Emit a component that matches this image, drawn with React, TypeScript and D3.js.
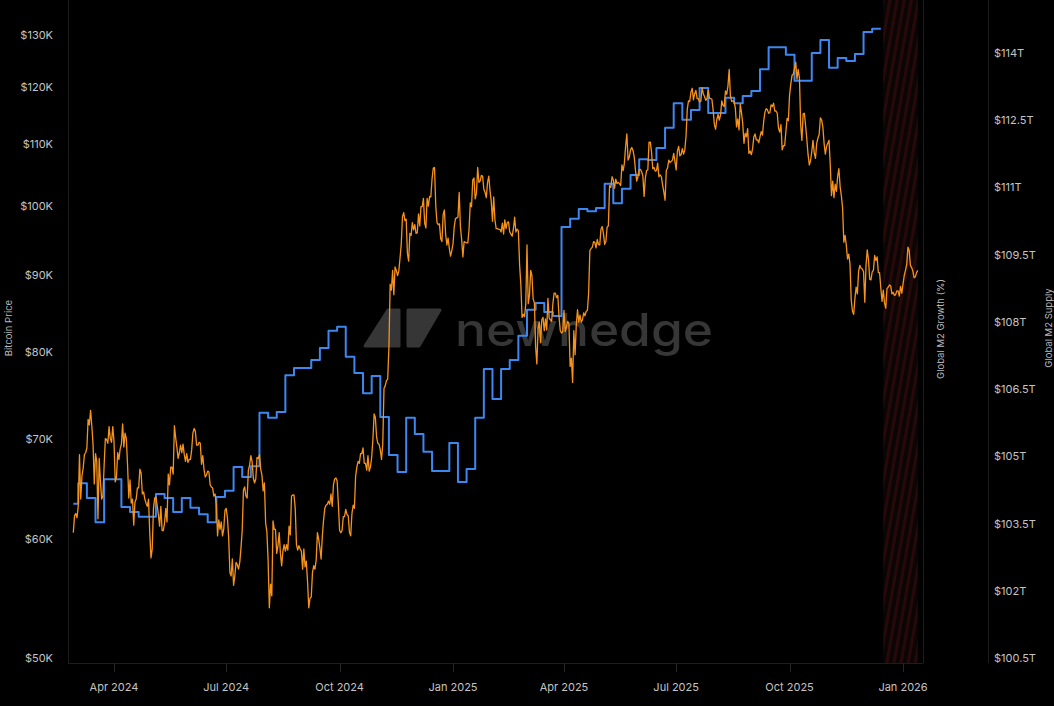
import { useEffect, useRef } from 'react';
import * as d3 from 'd3';

const W = 1054;
const H = 706;

// Bitcoin daily close ($K). Each row starts at the matching date in btcMonthStarts.
const btcMonthStarts = [
    '2024-02-28', '2024-03-01', '2024-04-01', '2024-05-01', '2024-06-01', '2024-07-01',
    '2024-08-01', '2024-09-01', '2024-10-01', '2024-11-01', '2024-12-01', '2025-01-01',
    '2025-02-01', '2025-03-01', '2025-04-01', '2025-05-01', '2025-06-01', '2025-07-01',
    '2025-08-01', '2025-09-01', '2025-10-01', '2025-11-01', '2025-12-01', '2026-01-01',
];
const btcDailyK: number[][] = [
    [60.6, 62.2],
    [62.4, 62.0, 63.1, 68.3, 63.8, 66.1, 66.9, 68.3, 68.5, 69.0, 72.1, 71.5, 73.1, 71.4, 69.4, 65.3, 68.4, 67.6, 61.9, 67.9, 65.5, 63.8, 64.1, 67.2, 70.0, 69.9, 69.5, 71.3, 70.0, 69.6, 71.3],
    [69.7, 65.5, 66.0, 68.5, 67.8, 68.9, 69.4, 71.6, 69.1, 70.6, 70.0, 67.2, 63.9, 65.7, 63.4, 63.8, 61.3, 63.5, 63.8, 64.9, 64.9, 66.8, 66.4, 64.3, 64.5, 63.8, 63.4, 63.1, 63.8, 60.6],
    [58.3, 59.1, 62.9, 63.9, 64.0, 63.2, 62.3, 61.2, 63.1, 60.8, 60.8, 61.5, 62.9, 61.6, 66.3, 65.2, 67.0, 67.0, 66.3, 71.4, 70.1, 69.1, 67.9, 68.5, 69.3, 68.5, 69.4, 68.3, 67.6, 68.4, 67.5],
    [67.8, 67.8, 68.8, 70.6, 71.1, 70.8, 69.3, 69.3, 69.6, 69.5, 67.3, 68.2, 66.8, 66.0, 66.2, 66.6, 66.5, 65.2, 65.0, 64.9, 64.1, 64.3, 63.2, 60.3, 61.8, 60.9, 61.6, 60.3, 60.9, 62.7],
    [62.9, 62.0, 60.2, 57.0, 56.7, 58.2, 55.9, 56.7, 57.9, 57.7, 57.3, 57.9, 59.2, 60.8, 64.7, 65.0, 64.1, 63.9, 66.7, 67.2, 68.2, 67.6, 65.9, 65.4, 65.8, 68.0, 67.9, 68.3, 66.8, 66.2, 64.6],
    [65.4, 61.5, 60.7, 58.1, 54.0, 56.0, 55.0, 61.7, 60.9, 60.9, 58.7, 59.4, 60.6, 58.7, 57.6, 58.9, 59.5, 58.9, 59.5, 59.0, 61.2, 60.4, 64.1, 64.2, 64.2, 62.9, 59.5, 59.0, 59.4, 59.1, 58.9],
    [57.3, 59.1, 57.5, 58.0, 56.2, 54.0, 54.8, 54.9, 57.0, 57.6, 57.3, 58.1, 60.6, 60.0, 59.2, 58.2, 60.3, 61.8, 62.9, 63.2, 63.3, 63.6, 63.3, 64.3, 63.1, 65.2, 65.8, 65.9, 65.6, 63.3],
    [60.8, 60.6, 60.8, 62.1, 62.1, 62.8, 62.3, 62.2, 60.6, 60.3, 62.4, 63.2, 62.9, 66.1, 67.0, 67.6, 67.4, 68.4, 68.4, 69.0, 67.4, 67.4, 66.7, 68.2, 66.6, 67.0, 68.0, 69.9, 72.7, 72.3, 70.2],
    [69.5, 69.4, 68.8, 67.8, 69.4, 75.6, 75.9, 76.5, 76.7, 80.5, 88.7, 87.9, 90.6, 87.3, 91.1, 90.6, 89.9, 90.5, 92.3, 94.3, 98.4, 99.0, 97.8, 98.0, 93.0, 91.9, 95.9, 95.6, 97.5, 96.4],
    [97.2, 95.9, 96.0, 98.8, 97.0, 99.9, 99.9, 101.2, 97.4, 96.7, 101.2, 100.0, 101.5, 101.4, 104.3, 106.0, 106.1, 100.0, 97.5, 97.2, 97.3, 95.1, 94.7, 98.7, 99.4, 95.8, 94.2, 95.2, 93.7, 92.6, 93.4],
    [94.4, 96.9, 98.1, 98.2, 98.3, 102.1, 96.9, 95.0, 92.5, 94.7, 94.6, 94.5, 94.5, 96.5, 100.5, 99.9, 104.1, 104.4, 101.1, 102.0, 106.1, 103.7, 103.9, 104.8, 104.7, 102.6, 102.1, 101.3, 103.7, 104.7, 102.4],
    [100.7, 97.7, 101.4, 97.9, 96.6, 96.6, 96.5, 96.5, 96.1, 97.4, 95.8, 97.9, 96.6, 97.5, 97.6, 96.1, 95.8, 95.5, 96.6, 98.3, 96.1, 96.5, 96.3, 91.4, 88.7, 84.3, 84.7, 84.4],
    [86.0, 94.2, 86.1, 87.2, 90.6, 89.9, 86.7, 86.2, 80.6, 78.5, 82.9, 83.7, 81.1, 84.0, 84.3, 82.6, 84.1, 82.7, 86.8, 84.2, 84.0, 83.8, 86.1, 87.5, 87.5, 86.9, 87.2, 84.4, 82.6, 82.3, 82.5],
    [85.2, 82.5, 83.1, 83.8, 83.5, 78.2, 79.2, 76.3, 82.6, 79.6, 83.4, 85.3, 83.7, 84.6, 83.7, 84.0, 84.9, 84.5, 85.1, 85.2, 87.5, 93.4, 93.7, 93.9, 94.7, 94.6, 93.8, 95.0, 94.3, 94.2],
    [96.5, 96.9, 95.9, 94.3, 94.7, 96.8, 97.0, 103.2, 102.9, 104.6, 104.1, 102.8, 104.2, 103.5, 103.7, 103.5, 103.2, 106.5, 105.6, 106.8, 109.6, 111.7, 107.3, 107.8, 109.0, 109.4, 108.9, 107.8, 105.6, 103.9, 104.6],
    [105.8, 105.8, 105.4, 104.7, 101.5, 104.4, 105.6, 105.7, 110.3, 110.3, 108.7, 105.9, 106.1, 105.5, 105.6, 106.8, 104.6, 104.9, 104.6, 103.3, 102.2, 100.9, 105.6, 106.0, 107.3, 106.9, 107.1, 107.3, 108.4, 107.1],
    [105.7, 108.8, 109.6, 108.0, 108.2, 109.2, 108.3, 109.0, 111.3, 116.0, 117.5, 117.4, 119.1, 119.8, 117.7, 118.8, 119.4, 117.9, 117.9, 117.3, 117.4, 119.9, 118.8, 118.3, 117.6, 117.9, 119.4, 118.0, 117.9, 117.8, 115.8],
    [113.3, 112.5, 114.2, 115.1, 114.1, 115.0, 117.5, 116.7, 116.5, 119.3, 118.7, 120.2, 123.3, 118.4, 117.4, 117.5, 117.4, 116.2, 112.9, 114.3, 112.4, 116.9, 115.4, 113.5, 110.1, 111.8, 111.2, 112.6, 108.4, 108.8, 108.2],
    [109.2, 111.2, 111.7, 110.7, 110.7, 110.2, 111.2, 112.1, 111.5, 113.9, 115.5, 116.1, 115.9, 115.3, 115.4, 116.8, 116.5, 117.1, 115.7, 115.7, 115.3, 112.7, 112.0, 113.3, 109.0, 109.7, 109.7, 112.1, 114.4, 114.0],
    [118.6, 120.6, 122.2, 122.4, 123.5, 124.7, 121.5, 123.3, 121.7, 113.2, 110.6, 115.2, 115.3, 113.1, 110.8, 108.2, 106.5, 107.2, 108.7, 110.6, 108.5, 107.6, 110.1, 111.0, 111.6, 114.5, 114.1, 112.9, 110.1, 108.3, 109.6],
    [110.1, 110.6, 106.5, 101.6, 103.9, 101.3, 103.4, 102.3, 104.7, 105.9, 103.0, 101.6, 99.7, 94.6, 95.6, 94.2, 92.2, 92.9, 91.5, 86.6, 85.1, 84.7, 86.8, 88.3, 87.4, 90.5, 91.3, 90.9, 90.8, 90.4],
    [86.3, 91.3, 93.5, 92.1, 89.4, 89.3, 90.4, 90.6, 92.7, 92.0, 92.5, 90.3, 90.3, 88.2, 86.4, 87.9, 86.2, 85.5, 88.1, 88.3, 88.6, 88.5, 87.4, 87.6, 87.2, 87.3, 87.8, 87.8, 87.1, 88.4, 87.5],
    [88.7, 89.9, 90.6, 91.4, 93.9, 93.4, 91.3, 91.0, 90.5, 89.6, 89.7, 90.3, 90.6],
];

// Global M2 supply ($T): one opening reading, then weekly readings
const m2OpenDate = '2024-02-28';
const m2OpenT = 103.94;
const m2FirstWeek = '2024-03-03';
const m2WeeklyT = [
    104.40, 104.07, 103.53, 104.49, 104.49, 103.87, 103.76, 103.65, 103.65, 104.16,
    104.07, 103.76, 104.07, 103.85, 103.71, 103.53, 104.09, 104.23, 104.76, 104.54,
    104.78, 105.97, 105.86, 105.99, 106.81, 106.97, 106.97, 107.15, 107.42, 107.80,
    107.89, 107.22, 106.86, 106.41, 106.79, 105.88, 105.03, 104.65, 105.86, 105.50,
    105.10, 104.67, 104.67, 105.30, 104.43, 104.72, 105.86, 106.95, 106.28, 106.95,
    107.15, 107.69, 108.27, 108.42, 108.22, 108.13, 110.12, 110.30, 110.52, 110.47,
    110.54, 111.08, 110.65, 110.97, 111.28, 111.63, 111.61, 111.88, 112.33, 112.88,
    112.51, 112.73, 113.22, 112.66, 112.66, 113.00, 112.88, 113.04, 113.15, 113.64,
    114.13, 114.13, 113.96, 113.38, 113.38, 114.00, 114.29, 113.67, 113.89, 113.82,
    113.98, 114.47, 114.54, 114.54,
];

// hatched (incomplete data) band
const forecastBand = ['2025-12-16', '2026-01-13'];

const priceTicksK = [50, 60, 70, 80, 90, 100, 110, 120, 130];
const supplyTicksT = [100.5, 102, 103.5, 105, 106.5, 108, 109.5, 111, 112.5, 114];
const dateTicks = ['2024-04-01', '2024-07-01', '2024-10-01', '2025-01-01', '2025-04-01', '2025-07-01', '2025-10-01', '2026-01-01'];

const FONT = "Inter, 'DejaVu Sans', sans-serif";

const Chart: React.FC = () => {
    const ref = useRef<SVGSVGElement | null>(null);

    useEffect(() => {
        const parse = d3.timeParse('%Y-%m-%d');
        const svg = d3.select(ref.current);
        svg.selectAll('*').remove();

        const plot = { left: 68, right: 923, top: 0, bottom: 663 };
        const supplyAxisX = 988;

        const x = d3.scaleTime()
            .domain([parse('2024-04-01')!, parse('2026-01-01')!])
            .range([114, 903]);
        const yPrice = d3.scaleLog().domain([50, 130]).range([658, 35]);
        const ySupply = d3.scaleLinear().domain([100.5, 114]).range([658, 53]);

        svg.append('rect').attr('width', W).attr('height', H).attr('fill', '#000');

        // hatch pattern for the last weeks
        const pattern = svg.append('defs').append('pattern')
            .attr('id', 'hatch')
            .attr('patternUnits', 'userSpaceOnUse')
            .attr('width', 7)
            .attr('height', 7)
            .attr('patternTransform', 'rotate(10)');
        pattern.append('rect').attr('width', 7).attr('height', 7).attr('fill', '#0c0505');
        pattern.append('rect').attr('width', 3).attr('height', 7).attr('fill', '#280909');

        const [bandStart, bandEnd] = forecastBand.map(d => parse(d)!);
        svg.append('rect')
            .attr('x', x(bandStart))
            .attr('y', plot.top)
            .attr('width', x(bandEnd) - x(bandStart))
            .attr('height', plot.bottom - plot.top)
            .attr('fill', 'url(#hatch)');

        // watermark
        const wm = svg.append('g')
            .attr('fill', '#363636')
            .attr('stroke', '#363636')
            .attr('stroke-width', 3)
            .attr('stroke-linejoin', 'round');
        wm.append('path').attr('d', 'M365,346 L388,310 L399,310 L399,346 Z');
        wm.append('path').attr('d', 'M408,310 L440,310 L419,346 L408,346 Z');
        wm.append('text')
            .attr('x', 455)
            .attr('y', 346)
            .attr('stroke', 'none')
            .attr('font-family', FONT)
            .attr('font-size', 45)
            .attr('font-weight', 500)
            .attr('textLength', 258)
            .attr('lengthAdjust', 'spacingAndGlyphs')
            .text('newhedge');

        // axis lines
        const axisColor = '#1d1d1d';
        [plot.left, plot.right, supplyAxisX].forEach(ax => {
            svg.append('line')
                .attr('x1', ax + 0.5).attr('x2', ax + 0.5)
                .attr('y1', plot.top).attr('y2', plot.bottom)
                .attr('stroke', axisColor);
        });
        svg.append('line')
            .attr('x1', plot.left).attr('x2', plot.right)
            .attr('y1', plot.bottom + 0.5).attr('y2', plot.bottom + 0.5)
            .attr('stroke', axisColor);

        // x ticks
        const dates = dateTicks.map(d => parse(d)!);
        const fmt = d3.timeFormat('%b %Y');
        svg.append('g')
            .selectAll('line')
            .data(dates)
            .join('line')
            .attr('x1', d => Math.round(x(d)) + 0.5)
            .attr('x2', d => Math.round(x(d)) + 0.5)
            .attr('y1', plot.bottom)
            .attr('y2', plot.bottom + 9)
            .attr('stroke', '#262626');
        svg.append('g')
            .selectAll('text')
            .data(dates)
            .join('text')
            .attr('x', d => x(d))
            .attr('y', 687)
            .attr('text-anchor', 'middle')
            .attr('dominant-baseline', 'central')
            .attr('font-family', FONT)
            .attr('font-size', 11)
            .attr('fill', '#c4c4c4')
            .text(d => fmt(d));

        // left price ticks
        svg.append('g')
            .selectAll('text')
            .data(priceTicksK)
            .join('text')
            .attr('x', 53)
            .attr('y', d => yPrice(d))
            .attr('text-anchor', 'end')
            .attr('dominant-baseline', 'central')
            .attr('font-family', FONT)
            .attr('font-size', 11)
            .attr('fill', '#c4c4c4')
            .text(d => `$${d}K`);

        // right supply ticks
        svg.append('g')
            .selectAll('text')
            .data(supplyTicksT)
            .join('text')
            .attr('x', supplyAxisX + 6)
            .attr('y', d => ySupply(d))
            .attr('dominant-baseline', 'central')
            .attr('font-family', FONT)
            .attr('font-size', 11)
            .attr('fill', '#c4c4c4')
            .text(d => `$${+d.toFixed(1)}T`);

        // axis titles
        const titles: [string, number, number][] = [
            ['Bitcoin Price', 8, 328],
            ['Global M2 Growth (%)', 940, 329],
            ['Global M2 Supply', 1048, 328],
        ];
        titles.forEach(([label, tx, ty]) => {
            svg.append('text')
                .attr('transform', `translate(${tx},${ty}) rotate(-90)`)
                .attr('text-anchor', 'middle')
                .attr('dominant-baseline', 'central')
                .attr('font-family', FONT)
                .attr('font-size', 9.5)
                .attr('fill', '#b8b8b8')
                .text(label);
        });

        // M2 supply (step line)
        const m2Start = parse(m2FirstWeek)!;
        const m2Points = [
            { date: parse(m2OpenDate)!, value: m2OpenT },
            ...m2WeeklyT.map((v, k) => ({ date: d3.timeWeek.offset(m2Start, k), value: v })),
        ];
        const m2Line = d3.line<{ date: Date; value: number }>()
            .x(d => x(d.date))
            .y(d => ySupply(d.value))
            .curve(d3.curveStepAfter);
        svg.append('path')
            .datum(m2Points)
            .attr('d', m2Line)
            .attr('fill', 'none')
            .attr('stroke', '#3d87f0')
            .attr('stroke-width', 2)
            .attr('stroke-linejoin', 'round');

        // bitcoin price
        const btcPoints = btcMonthStarts.flatMap((s, i) => {
            const start = parse(s)!;
            return btcDailyK[i].map((v, j) => ({ date: d3.timeDay.offset(start, j), value: v }));
        });
        const btcLine = d3.line<{ date: Date; value: number }>()
            .x(d => x(d.date))
            .y(d => yPrice(d.value));
        svg.append('path')
            .datum(btcPoints)
            .attr('d', btcLine)
            .attr('fill', 'none')
            .attr('stroke', '#f7931a')
            .attr('stroke-width', 1.3)
            .attr('stroke-linejoin', 'round');
    }, []);

    return (
        <svg
            ref={ref}
            width={W}
            height={H}
            style={{ position: 'absolute', left: 0, top: 0, display: 'block' }}
        />
    );
};

export default function App() {
    useEffect(() => {
        document.body.style.background = '#000';
    }, []);
    return <Chart />;
}
